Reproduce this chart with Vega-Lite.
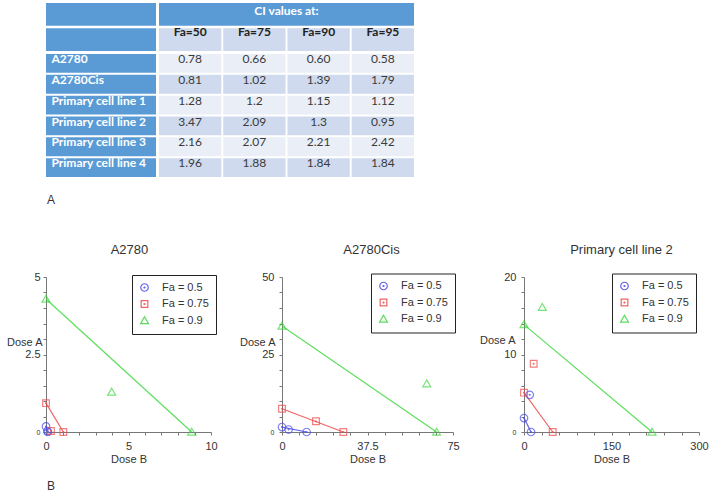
{
  "$schema": "https://vega.github.io/schema/vega-lite/v6.json",
  "padding": {"left": 4, "top": 3, "right": 0, "bottom": 0},
  "config": {
    "view": {"stroke": null},
    "font": "Liberation Sans",
    "axis": {"grid": false, "labelColor": "#333", "titleColor": "#333", "domainColor": "#777", "tickColor": "#777", "labelFontSize": 11, "titleFontSize": 11, "titleFontWeight": "normal", "labelFlush": false, "labelOverlap": false},
    "title": {"fontSize": 13, "fontWeight": "normal", "color": "#333"},
    "legend": {"labelFontSize": 11, "labelColor": "#333", "title": null, "orient": "none", "strokeColor": "#222", "fillColor": "white", "padding": 7, "labelOffset": 12, "rowPadding": 3.5, "symbolSize": 70, "symbolStrokeWidth": 1.2}
  },
  "datasets": {
    "table": [
      {"row": "h1", "col": "label", "text": ""},
      {"row": "h2", "col": "label", "text": ""},
      {"row": "h1", "col": "span", "text": "CI values at:"},
      {"row": "h2", "col": "Fa=50", "text": "Fa=50"},
      {"row": "h2", "col": "Fa=75", "text": "Fa=75"},
      {"row": "h2", "col": "Fa=90", "text": "Fa=90"},
      {"row": "h2", "col": "Fa=95", "text": "Fa=95"},
      {"row": "A2780", "col": "label", "text": "A2780"},
      {"row": "A2780", "col": "Fa=50", "text": "0.78"},
      {"row": "A2780", "col": "Fa=75", "text": "0.66"},
      {"row": "A2780", "col": "Fa=90", "text": "0.60"},
      {"row": "A2780", "col": "Fa=95", "text": "0.58"},
      {"row": "A2780Cis", "col": "label", "text": "A2780Cis"},
      {"row": "A2780Cis", "col": "Fa=50", "text": "0.81"},
      {"row": "A2780Cis", "col": "Fa=75", "text": "1.02"},
      {"row": "A2780Cis", "col": "Fa=90", "text": "1.39"},
      {"row": "A2780Cis", "col": "Fa=95", "text": "1.79"},
      {"row": "Primary cell line 1", "col": "label", "text": "Primary cell line 1"},
      {"row": "Primary cell line 1", "col": "Fa=50", "text": "1.28"},
      {"row": "Primary cell line 1", "col": "Fa=75", "text": "1.2"},
      {"row": "Primary cell line 1", "col": "Fa=90", "text": "1.15"},
      {"row": "Primary cell line 1", "col": "Fa=95", "text": "1.12"},
      {"row": "Primary cell line 2", "col": "label", "text": "Primary cell line 2"},
      {"row": "Primary cell line 2", "col": "Fa=50", "text": "3.47"},
      {"row": "Primary cell line 2", "col": "Fa=75", "text": "2.09"},
      {"row": "Primary cell line 2", "col": "Fa=90", "text": "1.3"},
      {"row": "Primary cell line 2", "col": "Fa=95", "text": "0.95"},
      {"row": "Primary cell line 3", "col": "label", "text": "Primary cell line 3"},
      {"row": "Primary cell line 3", "col": "Fa=50", "text": "2.16"},
      {"row": "Primary cell line 3", "col": "Fa=75", "text": "2.07"},
      {"row": "Primary cell line 3", "col": "Fa=90", "text": "2.21"},
      {"row": "Primary cell line 3", "col": "Fa=95", "text": "2.42"},
      {"row": "Primary cell line 4", "col": "label", "text": "Primary cell line 4"},
      {"row": "Primary cell line 4", "col": "Fa=50", "text": "1.96"},
      {"row": "Primary cell line 4", "col": "Fa=75", "text": "1.88"},
      {"row": "Primary cell line 4", "col": "Fa=90", "text": "1.84"},
      {"row": "Primary cell line 4", "col": "Fa=95", "text": "1.84"}
    ],
    "iso": [
      {"panel": "A2780", "fa": "Fa = 0.5", "role": "iso", "x": 0, "y": 0.18},
      {"panel": "A2780", "fa": "Fa = 0.5", "role": "iso", "x": 0.12, "y": 0},
      {"panel": "A2780", "fa": "Fa = 0.5", "role": "combo", "x": 0.08, "y": 0.03},
      {"panel": "A2780", "fa": "Fa = 0.75", "role": "iso", "x": 0, "y": 0.93},
      {"panel": "A2780", "fa": "Fa = 0.75", "role": "iso", "x": 1.05, "y": 0},
      {"panel": "A2780", "fa": "Fa = 0.75", "role": "combo", "x": 0.3, "y": 0.03},
      {"panel": "A2780", "fa": "Fa = 0.9", "role": "iso", "x": 0, "y": 4.29},
      {"panel": "A2780", "fa": "Fa = 0.9", "role": "iso", "x": 8.83, "y": 0},
      {"panel": "A2780", "fa": "Fa = 0.9", "role": "combo", "x": 3.98, "y": 1.29},
      {"panel": "A2780Cis", "fa": "Fa = 0.5", "role": "iso", "x": 0, "y": 1.6},
      {"panel": "A2780Cis", "fa": "Fa = 0.5", "role": "iso", "x": 10.8, "y": 0},
      {"panel": "A2780Cis", "fa": "Fa = 0.5", "role": "combo", "x": 2.9, "y": 0.8},
      {"panel": "A2780Cis", "fa": "Fa = 0.75", "role": "iso", "x": 0, "y": 7.5},
      {"panel": "A2780Cis", "fa": "Fa = 0.75", "role": "iso", "x": 26.9, "y": 0},
      {"panel": "A2780Cis", "fa": "Fa = 0.75", "role": "combo", "x": 14.9, "y": 3.45},
      {"panel": "A2780Cis", "fa": "Fa = 0.9", "role": "iso", "x": 0, "y": 34.2},
      {"panel": "A2780Cis", "fa": "Fa = 0.9", "role": "iso", "x": 67.8, "y": 0},
      {"panel": "A2780Cis", "fa": "Fa = 0.9", "role": "combo", "x": 63.5, "y": 15.6},
      {"panel": "Primary cell line 2", "fa": "Fa = 0.5", "role": "iso", "x": 0, "y": 1.8},
      {"panel": "Primary cell line 2", "fa": "Fa = 0.5", "role": "iso", "x": 12, "y": 0},
      {"panel": "Primary cell line 2", "fa": "Fa = 0.5", "role": "combo", "x": 9.8, "y": 4.8},
      {"panel": "Primary cell line 2", "fa": "Fa = 0.75", "role": "iso", "x": 0, "y": 5.08},
      {"panel": "Primary cell line 2", "fa": "Fa = 0.75", "role": "iso", "x": 49.2, "y": 0},
      {"panel": "Primary cell line 2", "fa": "Fa = 0.75", "role": "combo", "x": 16.6, "y": 8.8},
      {"panel": "Primary cell line 2", "fa": "Fa = 0.9", "role": "iso", "x": 0, "y": 13.86},
      {"panel": "Primary cell line 2", "fa": "Fa = 0.9", "role": "iso", "x": 219.5, "y": 0},
      {"panel": "Primary cell line 2", "fa": "Fa = 0.9", "role": "combo", "x": 31.4, "y": 16.1}
    ]
  },
  "spacing": 38,
  "resolve": {"scale": {"color": "independent", "shape": "independent", "fill": "independent"}, "legend": {"color": "independent", "shape": "independent", "fill": "independent"}},
  "vconcat": [
    {
      "columns": 2,
      "spacing": 2,
      "concat": [
        {
          "width": 110, "height": 48,
          "data": {"name": "table"},
          "transform": [{"filter": "datum.col == 'label' && (datum.row == 'h1' || datum.row == 'h2')"}],
          "mark": {"type": "rect", "fill": "#5b9bd5"},
          "encoding": {
            "y": {"field": "row", "type": "nominal", "scale": {"domain": ["h1", "h2"], "paddingInner": 0.103, "paddingOuter": 0},
                  "axis": {"labels": false, "ticks": false, "domain": false, "title": null, "minExtent": 42, "maxExtent": 42}}
          }
        },
        {
          "width": 255, "height": 48,
          "data": {"name": "table"},
          "transform": [{"filter": "datum.col != 'label'"}],
          "encoding": {
            "y": {"field": "row", "type": "nominal", "scale": {"domain": ["h1", "h2"], "paddingInner": 0.103, "paddingOuter": 0}, "axis": null}
          },
          "layer": [
            {"transform": [{"filter": "datum.row == 'h1'"}], "mark": {"type": "rect", "fill": "#5b9bd5"}},
            {"transform": [{"filter": "datum.row == 'h2'"}], "mark": {"type": "rect", "fill": "#cfdaee"},
             "encoding": {"x": {"field": "col", "type": "nominal", "scale": {"domain": ["Fa=50", "Fa=75", "Fa=90", "Fa=95"], "paddingInner": 0.03, "paddingOuter": 0}, "axis": null}}},
            {"transform": [{"filter": "datum.row == 'h1'"}], "mark": {"type": "text", "font": "Lato", "fontSize": 12, "fontWeight": "bold", "color": "white", "dy": -3},
             "encoding": {"text": {"field": "text"}}},
            {"transform": [{"filter": "datum.row == 'h2'"}], "mark": {"type": "text", "font": "Lato", "fontSize": 12, "fontWeight": "bold", "color": "#222", "baseline": "middle", "dy": 4},
             "encoding": {"x": {"field": "col", "type": "nominal", "scale": {"domain": ["Fa=50", "Fa=75", "Fa=90", "Fa=95"], "paddingInner": 0.03, "paddingOuter": 0}, "axis": null},
                          "y": {"field": "row", "type": "nominal", "bandPosition": 0},
                          "text": {"field": "text"}}}
          ]
        },
        {
          "width": 110, "height": 123,
          "title": {"text": "A", "orient": "bottom", "anchor": "start", "frame": "group", "offset": 18, "dx": 1, "fontSize": 12, "color": "#333"},
          "data": {"name": "table"},
          "transform": [{"filter": "datum.col == 'label' && datum.row != 'h1' && datum.row != 'h2'"}],
          "encoding": {
            "y": {"field": "row", "type": "nominal",
                  "scale": {"domain": ["A2780", "A2780Cis", "Primary cell line 1", "Primary cell line 2", "Primary cell line 3", "Primary cell line 4"], "paddingInner": 0.096, "paddingOuter": 0},
                  "axis": {"labels": false, "ticks": false, "domain": false, "title": null, "minExtent": 42, "maxExtent": 42}},
            "x": {"field": "col", "type": "nominal", "scale": {"paddingInner": 0, "paddingOuter": 0}, "axis": null}
          },
          "layer": [
            {"mark": {"type": "rect", "fill": "#5b9bd5"}},
            {"mark": {"type": "text", "font": "Lato", "fontSize": 12, "fontWeight": "bold", "color": "white", "align": "left", "baseline": "middle", "dx": 5.5, "dy": 5},
             "encoding": {"x": {"field": "col", "type": "nominal", "bandPosition": 0},
                          "y": {"field": "row", "type": "nominal", "bandPosition": 0},
                          "text": {"field": "text"}}}
          ]
        },
        {
          "width": 255, "height": 123,
          "data": {"name": "table"},
          "transform": [{"filter": "datum.col != 'label' && datum.row != 'h1' && datum.row != 'h2'"}],
          "encoding": {
            "y": {"field": "row", "type": "nominal",
                  "scale": {"domain": ["A2780", "A2780Cis", "Primary cell line 1", "Primary cell line 2", "Primary cell line 3", "Primary cell line 4"], "paddingInner": 0.096, "paddingOuter": 0},
                  "axis": null},
            "x": {"field": "col", "type": "nominal", "scale": {"domain": ["Fa=50", "Fa=75", "Fa=90", "Fa=95"], "paddingInner": 0.03, "paddingOuter": 0}, "axis": null}
          },
          "layer": [
            {"mark": {"type": "rect"},
             "encoding": {"fill": {"field": "row", "type": "nominal", "legend": null,
                                   "scale": {"domain": ["A2780", "A2780Cis", "Primary cell line 1", "Primary cell line 2", "Primary cell line 3", "Primary cell line 4"],
                                             "range": ["#e9eef7", "#cfdaee", "#e9eef7", "#cfdaee", "#e9eef7", "#cfdaee"]}}}},
            {"mark": {"type": "text", "font": "Lato", "fontSize": 12, "color": "#3a3a3a", "baseline": "middle", "dy": 5},
             "encoding": {"y": {"field": "row", "type": "nominal", "bandPosition": 0},
                          "text": {"field": "text"}}}
          ]
        }
      ]
    },
    {
      "bounds": "flush",
      "spacing": 71,
      "resolve": {"scale": {"color": "independent", "shape": "independent"}, "legend": {"color": "independent", "shape": "independent"}},
      "title": {"text": "B", "orient": "bottom", "anchor": "start", "frame": "bounds", "offset": 17, "dx": 41, "fontSize": 12, "color": "#333"},
      "hconcat": [
        {
          "width": 165, "height": 155,
          "title": {"text": "A2780", "frame": "group", "offset": 14, "dx": 1},
          "data": {"name": "iso"},
          "transform": [{"filter": "datum.panel == 'A2780'"}],
          "encoding": {
            "x": {"field": "x", "type": "quantitative", "scale": {"domain": [0, 10], "nice": false},
                  "axis": {"values": [0, 1, 2, 3, 4, 5, 6, 7, 8, 9, 10], "labelExpr": "datum.value % 5 == 0 ? toString(datum.value) : ''", "title": "Dose B", "tickSize": 3, "labelPadding": 5, "titlePadding": 2}},
            "y": {"field": "y", "type": "quantitative", "scale": {"domain": [0, 5], "nice": false},
                  "axis": {"values": [0, 0.5, 1, 1.5, 2, 2.5, 3, 3.5, 4, 4.5, 5], "labelExpr": "datum.value % 2.5 == 0 ? toString(datum.value) : ''",
                           "labelFontSize": {"condition": {"test": "datum.value == 0", "value": 7}, "value": 11},
                           "title": "Dose A", "titleAngle": 0, "titleAlign": "right", "titleBaseline": "middle", "titleX": -4, "titleY": 65, "tickSize": 3, "labelPadding": 3}},
            "color": {"field": "fa", "type": "nominal",
                      "scale": {"domain": ["Fa = 0.5", "Fa = 0.75", "Fa = 0.9"], "range": ["#4a4ae8", "#ee4a4a", "#3fd83f"]},
                      "legend": {"legendX": 86, "legendY": -2}}
          },
          "layer": [
            {"transform": [{"filter": "datum.role == 'iso'"}], "mark": {"type": "line", "strokeWidth": 1.2, "opacity": 0.85}},
            {"mark": {"type": "point", "filled": false, "size": 70, "strokeWidth": 1.2},
             "encoding": {"shape": {"field": "fa", "type": "nominal",
                                    "scale": {"domain": ["Fa = 0.5", "Fa = 0.75", "Fa = 0.9"], "range": ["M-0.9,0A0.9,0.9,0,1,1,0.9,0A0.9,0.9,0,1,1,-0.9,0ZM-0.12,0A0.12,0.12,0,1,1,0.12,0A0.12,0.12,0,1,1,-0.12,0Z", "M-0.8,-0.8H0.8V0.8H-0.8ZM-0.12,0A0.12,0.12,0,1,1,0.12,0A0.12,0.12,0,1,1,-0.12,0Z", "M0,-0.9L0.95,0.75H-0.95Z"]},
                                    "legend": {"legendX": 86, "legendY": -2}}}}
          ]
        },
        {
          "width": 171, "height": 155,
          "title": {"text": "A2780Cis", "frame": "group", "offset": 14, "dx": 4},
          "data": {"name": "iso"},
          "transform": [{"filter": "datum.panel == 'A2780Cis'"}],
          "encoding": {
            "x": {"field": "x", "type": "quantitative", "scale": {"domain": [0, 75], "nice": false},
                  "axis": {"values": [0, 7.5, 15, 22.5, 30, 37.5, 45, 52.5, 60, 67.5, 75], "labelExpr": "datum.value % 37.5 == 0 ? toString(datum.value) : ''", "title": "Dose B", "tickSize": 3, "labelPadding": 5, "titlePadding": 2}},
            "y": {"field": "y", "type": "quantitative", "scale": {"domain": [0, 50], "nice": false},
                  "axis": {"values": [0, 5, 10, 15, 20, 25, 30, 35, 40, 45, 50], "labelExpr": "datum.value % 25 == 0 ? toString(datum.value) : ''",
                           "labelFontSize": {"condition": {"test": "datum.value == 0", "value": 7}, "value": 11},
                           "title": "Dose A", "titleAngle": 0, "titleAlign": "right", "titleBaseline": "middle", "titleX": -7, "titleY": 65, "tickSize": 3, "labelPadding": 5}},
            "color": {"field": "fa", "type": "nominal",
                      "scale": {"domain": ["Fa = 0.5", "Fa = 0.75", "Fa = 0.9"], "range": ["#4a4ae8", "#ee4a4a", "#3fd83f"]},
                      "legend": {"legendX": 89, "legendY": -3.5}}
          },
          "layer": [
            {"transform": [{"filter": "datum.role == 'iso'"}], "mark": {"type": "line", "strokeWidth": 1.2, "opacity": 0.85}},
            {"mark": {"type": "point", "filled": false, "size": 70, "strokeWidth": 1.2},
             "encoding": {"shape": {"field": "fa", "type": "nominal",
                                    "scale": {"domain": ["Fa = 0.5", "Fa = 0.75", "Fa = 0.9"], "range": ["M-0.9,0A0.9,0.9,0,1,1,0.9,0A0.9,0.9,0,1,1,-0.9,0ZM-0.12,0A0.12,0.12,0,1,1,0.12,0A0.12,0.12,0,1,1,-0.12,0Z", "M-0.8,-0.8H0.8V0.8H-0.8ZM-0.12,0A0.12,0.12,0,1,1,0.12,0A0.12,0.12,0,1,1,-0.12,0Z", "M0,-0.9L0.95,0.75H-0.95Z"]},
                                    "legend": {"legendX": 89, "legendY": -3.5}}}}
          ]
        },
        {
          "width": 175, "height": 155,
          "title": {"text": "Primary cell line 2", "frame": "group", "offset": 14, "dx": 10},
          "data": {"name": "iso"},
          "transform": [{"filter": "datum.panel == 'Primary cell line 2'"}],
          "encoding": {
            "x": {"field": "x", "type": "quantitative", "scale": {"domain": [0, 300], "nice": false},
                  "axis": {"values": [0, 30, 60, 90, 120, 150, 180, 210, 240, 270, 300], "labelExpr": "datum.value % 150 == 0 ? toString(datum.value) : ''", "title": "Dose B", "tickSize": 3, "labelPadding": 5, "titlePadding": 2}},
            "y": {"field": "y", "type": "quantitative", "scale": {"domain": [0, 20], "nice": false},
                  "axis": {"values": [0, 2, 4, 6, 8, 10, 12, 14, 16, 18, 20], "labelExpr": "datum.value % 10 == 0 ? toString(datum.value) : ''",
                           "labelFontSize": {"condition": {"test": "datum.value == 0", "value": 7}, "value": 11},
                           "title": "Dose A", "titleAngle": 0, "titleAlign": "right", "titleBaseline": "middle", "titleX": -9, "titleY": 63, "tickSize": 3, "labelPadding": 5}},
            "color": {"field": "fa", "type": "nominal",
                      "scale": {"domain": ["Fa = 0.5", "Fa = 0.75", "Fa = 0.9"], "range": ["#4a4ae8", "#ee4a4a", "#3fd83f"]},
                      "legend": {"legendX": 88, "legendY": -3.5}}
          },
          "layer": [
            {"transform": [{"filter": "datum.role == 'iso'"}], "mark": {"type": "line", "strokeWidth": 1.2, "opacity": 0.85}},
            {"mark": {"type": "point", "filled": false, "size": 70, "strokeWidth": 1.2},
             "encoding": {"shape": {"field": "fa", "type": "nominal",
                                    "scale": {"domain": ["Fa = 0.5", "Fa = 0.75", "Fa = 0.9"], "range": ["M-0.9,0A0.9,0.9,0,1,1,0.9,0A0.9,0.9,0,1,1,-0.9,0ZM-0.12,0A0.12,0.12,0,1,1,0.12,0A0.12,0.12,0,1,1,-0.12,0Z", "M-0.8,-0.8H0.8V0.8H-0.8ZM-0.12,0A0.12,0.12,0,1,1,0.12,0A0.12,0.12,0,1,1,-0.12,0Z", "M0,-0.9L0.95,0.75H-0.95Z"]},
                                    "legend": {"legendX": 88, "legendY": -3.5}}}}
          ]
        }
      ]
    }
  ]
}
